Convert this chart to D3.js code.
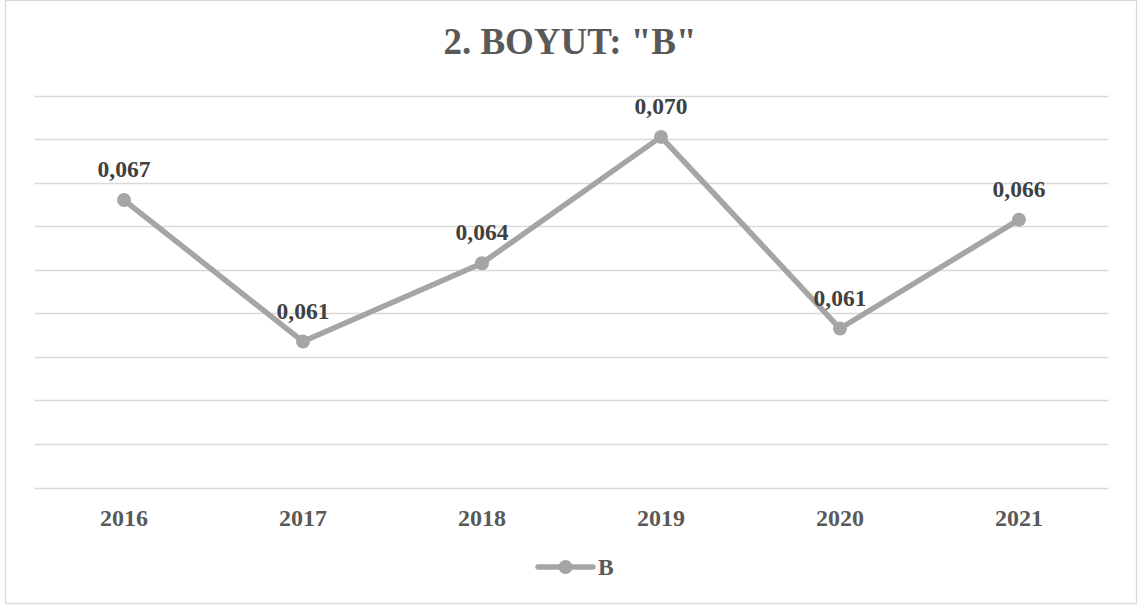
<!DOCTYPE html>
<html>
<head>
<meta charset="utf-8">
<script src="https://cdn.jsdelivr.net/npm/d3@7"></script>
<style>
  html, body { margin: 0; padding: 0; background: #fff; }
  svg { display: block; font-family: "Liberation Serif", "Times New Roman", serif; font-weight: bold; }
</style>
</head>
<body>
<svg id="chart" width="1140" height="608"></svg>
<script>
// data
var years = ['2016', '2017', '2018', '2019', '2020', '2021'];
var valuesB = [0.0672, 0.0607, 0.0643, 0.0701, 0.0613, 0.0663];
var labelsB = ['0,067', '0,061', '0,064', '0,070', '0,061', '0,066'];
var yTicks = [0.054, 0.056, 0.058, 0.060, 0.062, 0.064, 0.066, 0.068, 0.070, 0.072];

var seriesName = 'B';
var titleText = '2. BOYUT: "B"';

var lineColor = '#a5a5a5',
  gridColor = '#d9d9d9',
  textColor = '#595959',
  labelColor = '#404040';

var svg = d3.select('#chart');
var margin = { top: 95.5, right: 31.5, bottom: 120.5, left: 34.5 };
var width = 1140, height = 608;

// chart border
svg.append('rect')
  .attr('x', 5.5).attr('y', 0.5)
  .attr('width', 1131).attr('height', 603)
  .attr('fill', '#fff')
  .attr('stroke', gridColor)
  .attr('stroke-width', 1.3);

var x = d3.scaleBand()
  .domain(years)
  .range([margin.left, width - margin.right]);

var y = d3.scaleLinear()
  .domain([0.054, 0.072])
  .range([height - margin.bottom, margin.top]);

// gridlines
svg.append('g')
  .selectAll('line')
  .data(yTicks)
  .enter()
  .append('line')
  .attr('x1', x.range()[0])
  .attr('x2', x.range()[1])
  .attr('y1', function(d) { return Math.round(y(d)) + 0.5; })
  .attr('y2', function(d) { return Math.round(y(d)) + 0.5; })
  .attr('stroke', gridColor)
  .attr('stroke-width', 1.3);

// category axis (labels only)
var xAxis = d3.axisBottom(x).tickSize(0).tickPadding(0);
var gx = svg.append('g')
  .attr('transform', 'translate(0,' + (height - margin.bottom) + ')')
  .call(xAxis);
gx.select('.domain').remove();
gx.selectAll('text')
  .attr('dy', null)
  .attr('y', 38)
  .attr('fill', textColor)
  .style('font-size', '24px')
  .style('font-family', '"Liberation Serif", serif')
  .style('font-weight', 'bold');

var points = years.map(function(d, i) { return { year: d, value: valuesB[i], label: labelsB[i] }; });
var cx = function(d) { return x(d.year) + x.bandwidth() / 2; };

var line = d3.line()
  .x(cx)
  .y(function(d) { return y(d.value); });

svg.append('path')
  .datum(points)
  .attr('d', line)
  .attr('fill', 'none')
  .attr('stroke', lineColor)
  .attr('stroke-width', 5.5)
  .attr('stroke-linejoin', 'round')
  .attr('stroke-linecap', 'round');

svg.append('g')
  .selectAll('circle')
  .data(points)
  .enter()
  .append('circle')
  .attr('cx', cx)
  .attr('cy', function(d) { return y(d.value); })
  .attr('r', 7)
  .attr('fill', lineColor);

// data labels
svg.append('g')
  .selectAll('text')
  .data(points)
  .enter()
  .append('text')
  .attr('x', cx)
  .attr('y', function(d) { return y(d.value) - 23; })
  .attr('text-anchor', 'middle')
  .attr('fill', labelColor)
  .style('font-size', '23.5px')
  .text(function(d) { return d.label; });

// title
svg.append('text')
  .attr('x', 570)
  .attr('y', 54)
  .attr('text-anchor', 'middle')
  .attr('fill', textColor)
  .style('font-size', '37px')
  .text(titleText);

// legend
var legend = svg.append('g').attr('transform', 'translate(538,567)');
legend.append('line')
  .attr('x1', 0).attr('x2', 55)
  .attr('y1', 0).attr('y2', 0)
  .attr('stroke', lineColor)
  .attr('stroke-width', 5.5)
  .attr('stroke-linecap', 'round');
legend.append('circle')
  .attr('cx', 27.5).attr('cy', 0).attr('r', 7)
  .attr('fill', lineColor);
legend.append('text')
  .attr('x', 60)
  .attr('y', 8)
  .attr('fill', textColor)
  .style('font-size', '23.5px')
  .text(seriesName);
</script>
</body>
</html>
